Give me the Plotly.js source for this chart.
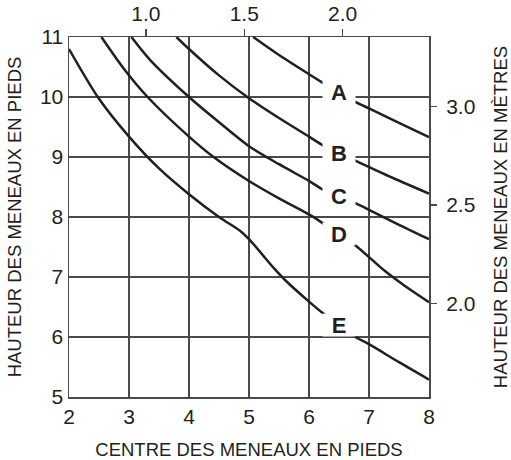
<!DOCTYPE html>
<html>
<head>
<meta charset="utf-8">
<script src="https://cdn.plot.ly/plotly-3.0.1.min.js"></script>
<style>
  html, body { margin: 0; padding: 0; background: white; }
  #chart { width: 511px; height: 460px; }
</style>
</head>
<body>
<div id="chart"></div>
<script>
// mullion centre (ft) vs mullion height (ft), one curve per label
const curveNames = ['A', 'B', 'C', 'D', 'E'];

const aCentre = [5.07, 5.5, 6.0, 6.24, 6.77, 7.0, 7.5, 8.0];
const aHeight = [11.0, 10.7, 10.38, 10.23, 9.92, 9.81, 9.57, 9.33];

const bCentre = [3.79, 4.0, 4.5, 5.0, 5.5, 6.0, 6.24, 6.77, 7.4, 8.0];
const bHeight = [11.0, 10.8, 10.36, 9.98, 9.65, 9.34, 9.19, 8.94, 8.65, 8.39];

const cCentre = [3.04, 3.35, 4.0, 4.5, 5.0, 5.5, 6.02, 6.24, 6.77, 7.0, 7.5, 8.0];
const cHeight = [11.0, 10.62, 10.0, 9.58, 9.18, 8.88, 8.59, 8.45, 8.23, 8.12, 7.87, 7.63];

const dCentre = [2.54, 2.93, 3.31, 4.0, 4.41, 5.0, 5.5, 6.02, 6.24, 6.77, 7.24, 7.6, 8.0];
const dHeight = [11.0, 10.45, 10.0, 9.34, 9.0, 8.6, 8.31, 8.03, 7.89, 7.53, 7.12, 6.85, 6.58];

const eCentre = [2.0, 2.5, 3.0, 3.5, 4.0, 4.5, 4.85, 5.0, 5.43, 5.6, 6.0, 6.24, 6.77, 7.0, 7.5, 8.0];
const eHeight = [10.8, 9.97, 9.34, 8.81, 8.38, 8.0, 7.77, 7.63, 7.13, 6.95, 6.59, 6.39, 6.0, 5.88, 5.58, 5.29];

const metreTicks = [1.0, 1.5, 2.0];
const metreHeightTicks = [2.0, 2.5, 3.0];
const FT_TO_M = 0.3048;

const curves = [
    [aCentre, aHeight],
    [bCentre, bHeight],
    [cCentre, cHeight],
    [dCentre, dHeight],
    [eCentre, eHeight]
];

const LABEL_AT = 6.5;
const FONT = 'Liberation Sans, Arial, sans-serif';
const INK = '#231f20';
const GRID = '#4a4a4a';

function heightAt(xs, ys, x) {
    for (let i = 0; i < xs.length - 1; i++) {
        if (x >= xs[i] && x <= xs[i + 1]) {
            const t = (x - xs[i]) / (xs[i + 1] - xs[i]);
            return ys[i] + t * (ys[i + 1] - ys[i]);
        }
    }
    return ys[ys.length - 1];
}

const traces = curves.map((c, i) => ({
    x: c[0],
    y: c[1],
    type: 'scatter',
    mode: 'lines',
    name: curveNames[i],
    line: {color: INK, width: 2.5, shape: 'spline', smoothing: 0.8},
    hoverinfo: 'skip',
    showlegend: false
}));

// invisible helper so the metric axes (top / right) get drawn
traces.push({
    x: metreTicks,
    y: metreHeightTicks,
    xaxis: 'x2',
    yaxis: 'y2',
    type: 'scatter',
    mode: 'markers',
    marker: {opacity: 0},
    hoverinfo: 'skip',
    showlegend: false
});

// labels sit on the curves, white box hides line and grid behind them
const labels = curves.map((c, i) => ({
    x: LABEL_AT,
    y: heightAt(c[0], c[1], LABEL_AT),
    xref: 'x', yref: 'y',
    text: '<b>' + curveNames[i] + '</b>',
    showarrow: false,
    font: {family: FONT, size: 22, color: INK},
    bgcolor: 'white',
    width: 30, height: 20, borderpad: 1
}));

const layout = {
    width: 511,
    height: 460,
    margin: {l: 69, r: 82, t: 37, b: 63},
    paper_bgcolor: 'white',
    plot_bgcolor: 'white',
    font: {family: FONT, color: INK},
    showlegend: false,
    xaxis: {
        range: [2, 8],
        dtick: 1,
        showgrid: true, gridcolor: GRID, gridwidth: 1.5,
        showline: true, linecolor: GRID, linewidth: 1.5, mirror: true,
        zeroline: false,
        ticks: '',
        tickfont: {size: 21},
        title: {text: 'CENTRE DES MENEAUX EN PIEDS', font: {size: 18.5}, standoff: 17}
    },
    yaxis: {
        range: [5, 11],
        dtick: 1,
        showgrid: true, gridcolor: GRID, gridwidth: 1.5,
        showline: true, linecolor: GRID, linewidth: 1.5, mirror: true,
        zeroline: false,
        ticks: '',
        tickfont: {size: 21},
        title: {text: 'HAUTEUR DES MENEAUX EN PIEDS', font: {size: 18.5}, standoff: 13}
    },
    xaxis2: {
        overlaying: 'x',
        side: 'top',
        range: [2 * FT_TO_M, 8 * FT_TO_M],
        tickvals: metreTicks,
        ticktext: metreTicks.map(v => v.toFixed(1)),
        ticks: 'outside', ticklen: 7, tickwidth: 1.5, tickcolor: GRID,
        showgrid: false, zeroline: false, showline: false,
        tickfont: {size: 21}
    },
    yaxis2: {
        overlaying: 'y',
        side: 'right',
        range: [5 * FT_TO_M, 11 * FT_TO_M],
        tickvals: metreHeightTicks,
        ticktext: metreHeightTicks.map(v => v.toFixed(1)),
        ticks: 'outside', ticklen: 7, tickwidth: 1.5, tickcolor: GRID,
        ticklabelstandoff: 5,
        showgrid: false, zeroline: false, showline: false,
        tickfont: {size: 21},
        title: {text: 'HAUTEUR DES MENEAUX EN MÈTRES', font: {size: 18.5}, standoff: 19}
    },
    annotations: labels
};

Plotly.newPlot('chart', traces, layout, {displayModeBar: false, staticPlot: true});
</script>
</body>
</html>
